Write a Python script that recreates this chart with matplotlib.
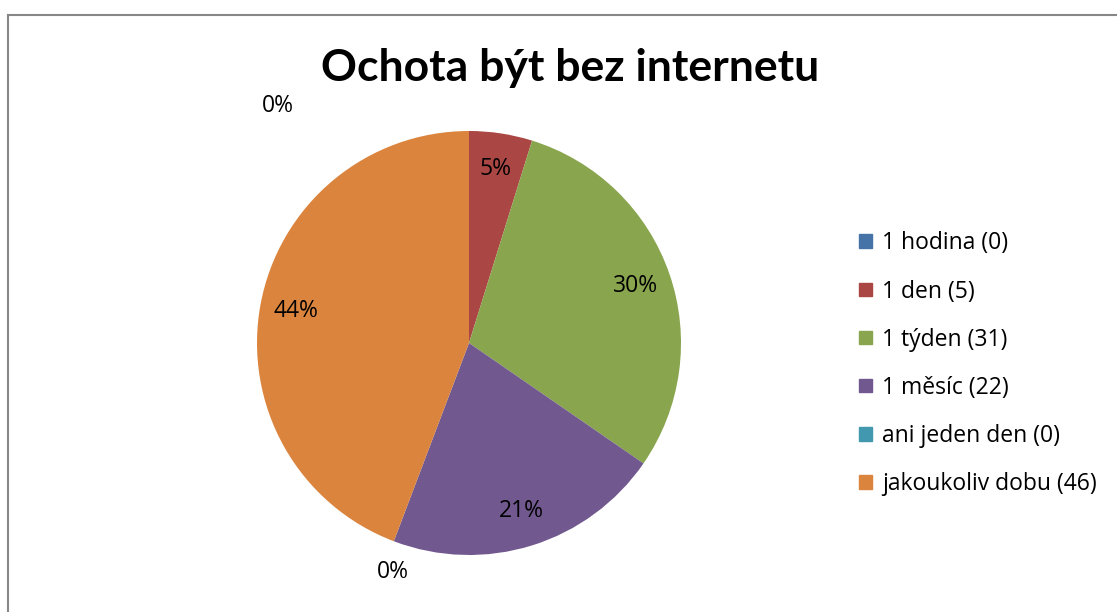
import matplotlib.pyplot as plt
import matplotlib.patches as mpatches
from matplotlib.lines import Line2D
import numpy as np

plt.rcParams['font.family'] = ['Open Sans', 'DejaVu Sans']

categories = ['1 hodina', '1 den', '1 týden', '1 měsíc', 'ani jeden den', 'jakoukoliv dobu']
counts = [0, 5, 31, 22, 0, 46]
colors = ['#4572A7', '#AA4643', '#89A54E', '#71588F', '#4198AF', '#DB843D']

W, H = 1117, 612
fig = plt.figure(figsize=(W / 100, H / 100), dpi=100)

# frame around chart area
fig.add_artist(Line2D([8 / W, 1], [1 - 15 / H, 1 - 15 / H], color='#878787', lw=1.5))
fig.add_artist(Line2D([8 / W, 8 / W], [0, 1 - 15 / H], color='#878787', lw=1.5))

cx, cy, r = 469, 343, 212
ax = fig.add_axes([(cx - r) / W, (H - cy - r) / H, 2 * r / W, 2 * r / H])

total = sum(counts)
wedges, _ = ax.pie(counts, colors=colors, startangle=90, counterclock=False,
                   radius=1, wedgeprops=dict(linewidth=0))
ax.set_xlim(-1, 1)
ax.set_ylim(-1, 1)
ax.set_aspect('equal')
ax.axis('off')

# zero-size slices get labels placed outside, like the original
zero_pos = {0: (-0.90, 1.12), 4: (-0.36, -1.08)}
for i, (w, c) in enumerate(zip(wedges, counts)):
    pct = '%d%%' % round(100 * c / total)
    if i in zero_pos:
        x, y = zero_pos[i]
    else:
        ang = np.deg2rad((w.theta1 + w.theta2) / 2)
        x, y = 0.83 * np.cos(ang), 0.83 * np.sin(ang)
    ax.text(x, y, pct, ha='center', va='center', fontsize=16.5, color='black')

fig.text(570 / W, 1 - 68 / H, 'Ochota být bez internetu', ha='center', va='center',
         fontsize=32, fontweight='bold', family=['Lato', 'DejaVu Sans'])

handles = [mpatches.Patch(color=col, label='%s (%d)' % (cat, n))
           for cat, n, col in zip(categories, counts, colors)]
fig.legend(handles=handles, loc='upper left', bbox_to_anchor=(848 / W, 1 - 220 / H),
           frameon=False, fontsize=16.5, labelspacing=1.05, handlelength=0.55,
           handleheight=0.55, handletextpad=0.45, borderpad=0)

fig.savefig('out.png', dpi=100)
